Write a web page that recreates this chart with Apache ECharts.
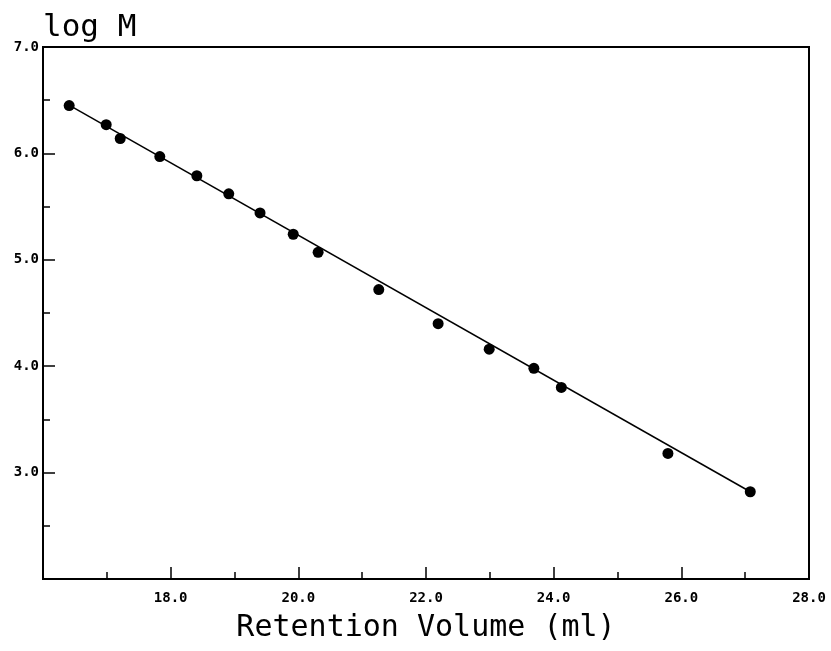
<!DOCTYPE html>
<html>
<head>
<meta charset="utf-8">
<script src="https://cdn.jsdelivr.net/npm/echarts@6/dist/echarts.min.js"></script>
<style>
  html, body { margin: 0; padding: 0; background: #fff; }
  #chart { width: 831px; height: 651px; }
</style>
</head>
<body>
<div id="chart"></div>
<script>
// Calibration standards: retention volume (ml) vs log of molecular weight
const retentionVolume = [16.41, 16.99, 17.21, 17.83, 18.41, 18.91, 19.40, 19.92, 20.31,
                         21.26, 22.19, 22.99, 23.69, 24.12, 25.79, 27.08];
const logM = [6.45, 6.27, 6.14, 5.97, 5.79, 5.62, 5.44, 5.24, 5.07,
              4.72, 4.40, 4.16, 3.98, 3.80, 3.18, 2.82];

// End points of the fitted calibration line
const fitVolume = [16.45, 27.08];
const fitLogM = [6.44, 2.82];

const xRange = [16, 28];
const yRange = [2, 7];

const mono = '"DejaVu Sans Mono", monospace';

const points = retentionVolume.map((v, i) => [v, logM[i]]);
const fitLine = fitVolume.map((v, i) => [v, fitLogM[i]]);

const chart = echarts.init(document.getElementById('chart'));
chart.setOption({
  animation: false,
  backgroundColor: '#fff',
  title: {
    text: 'log M',
    left: 38,
    top: 7,
    textStyle: { fontFamily: mono, fontSize: 31, fontWeight: 'normal', color: '#000' }
  },
  grid: {
    left: 43, right: 22, top: 47, bottom: 72,
    show: true, borderColor: '#000', borderWidth: 2, backgroundColor: 'transparent'
  },
  xAxis: {
    type: 'value',
    min: xRange[0], max: xRange[1], interval: 2,
    name: 'Retention Volume (ml)',
    nameLocation: 'middle',
    nameGap: 34,
    nameTextStyle: { fontFamily: mono, fontSize: 30, color: '#000' },
    axisLine: { show: true, lineStyle: { color: '#000', width: 2 } },
    axisTick: { show: true, inside: true, length: 12, lineStyle: { color: '#000', width: 1.5 } },
    minorTick: { show: true, splitNumber: 2, length: 7, lineStyle: { color: '#000', width: 1.5 } },
    splitLine: { show: false },
    axisLabel: {
      margin: 12,
      fontFamily: mono, fontSize: 14, fontWeight: 'bold', color: '#000',
      formatter: v => (v === xRange[0] ? '' : v.toFixed(1))
    }
  },
  yAxis: {
    type: 'value',
    min: yRange[0], max: yRange[1], interval: 1,
    axisLine: { show: true, lineStyle: { color: '#000', width: 2 } },
    axisTick: { show: true, inside: true, length: 12, lineStyle: { color: '#000', width: 1.5 } },
    minorTick: { show: true, splitNumber: 2, length: 7, lineStyle: { color: '#000', width: 1.5 } },
    splitLine: { show: false },
    axisLabel: {
      margin: 4,
      fontFamily: mono, fontSize: 14, fontWeight: 'bold', color: '#000',
      formatter: v => (v === yRange[0] ? '' : v.toFixed(1))
    }
  },
  series: [
    {
      type: 'line',
      data: fitLine,
      symbol: 'none',
      lineStyle: { color: '#000', width: 1.5 },
      z: 2
    },
    {
      type: 'scatter',
      data: points,
      symbol: 'circle',
      symbolSize: 11,
      itemStyle: { color: '#000', opacity: 1 },
      z: 3
    }
  ]
});
</script>
</body>
</html>
